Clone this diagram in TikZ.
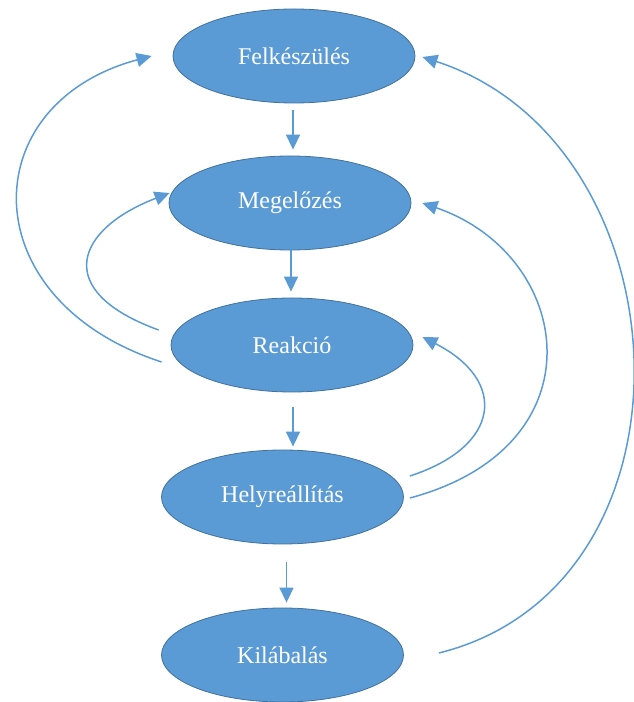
\documentclass[tikz,border=0pt]{standalone}
\usepackage{fontspec}
\setmainfont{Liberation Serif}
\usepackage{tikz}
\usetikzlibrary{shapes.geometric, arrows.meta, calc}
\definecolor{phasefill}{HTML}{5B9BD5}
\definecolor{phaseline}{HTML}{41719C}

\begin{document}
\begin{tikzpicture}[x=1pt, y=1pt,
    phase/.style={ellipse, draw=phaseline, line width=0.8pt, fill=phasefill,
        minimum width=242pt, minimum height=94pt, inner sep=0pt,
        text=white, font=\fontsize{24}{28}\selectfont},
    flow/.style={draw=phasefill, line width=1.5pt, -{Triangle[length=15pt, width=14pt]}}]
    \useasboundingbox (0,0) rectangle (633,702);

    % Phases
    \node[phase] (felk) at (294,646) {Felkészülés};
    \node[phase] (meg)  at (290,499) {Megelőzés};
    \node[phase] (reak) at (292,357) {Reakció};
    \node[phase] (hely) at (282.5,205) {Helyreállítás};
    \node[phase] (kil)  at (282.5,47) {Kilábalás};

    % Straight arrows down
    \foreach \a/\b/\s/\e/\dx in {felk/meg/7/6/-1, meg/reak/0/6/1, reak/hely/15/3/1, hely/kil/18/5/4}
        \draw[flow, shorten <=\s, shorten >=\e] ([xshift=\dx]\a.south) -- ([xshift=\dx]\a.south |- \b.north);

    % Loops on the left
    \draw[flow] ($(reak.west)+(-9,-17)$) to[out=162, in=195, out distance=200pt, in distance=185pt] ($(felk.west)+(-21,0)$);
    \draw[flow] ($(reak.west)+(-12,15)$) to[out=160, in=201, out distance=115pt, in distance=100pt] ($(meg.west)+(1,10)$);

    % Loops on the right
    \draw[flow] ($(hely.east)+(6,21)$) to[out=18, in=-27, out distance=96pt, in distance=96pt] ($(reak.east)+(9,8)$);
    \draw[flow] ($(hely.east)+(6,-1)$) to[out=15, in=-19, out distance=200pt, in distance=160pt] ($(meg.east)+(11,0)$);
    \draw[flow] ($(kil.east)+(35,2)$) to[out=14, in=-18, out distance=280pt, in distance=280pt] ($(felk.east)+(7,-1)$);
\end{tikzpicture}
\end{document}
